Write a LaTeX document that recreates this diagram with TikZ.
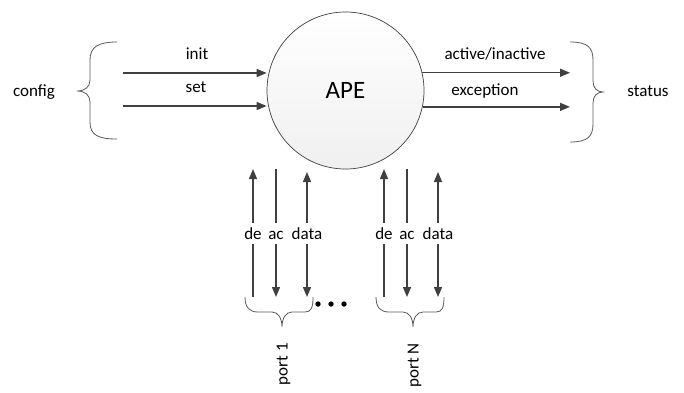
\documentclass[tikz,border=0pt]{standalone}
\usepackage{fontspec}
\setmainfont{Carlito}
\usetikzlibrary{arrows.meta,positioning,calc}
\definecolor{linegray}{HTML}{404040}
\definecolor{bracegray}{HTML}{5A5A5A}
\tikzstyle{arrow} = [line width=1.4pt, linegray, -{Triangle[length=10pt,width=8pt]}]
\tikzstyle{plain} = [line width=1.4pt, linegray]
\tikzstyle{brc} = [line width=0.8pt, bracegray]
\tikzstyle{lbl} = [inner xsep=1pt, inner ysep=5pt, text height=11pt, text depth=0pt, font=\fontsize{17}{20}\selectfont]

\begin{document}
\begin{tikzpicture}[x=1pt, y=-1pt]
	\useasboundingbox (0,0) rectangle (684,392);
	\node[circle, draw=linegray, line width=0.7pt, top color=white, bottom color=gray!12,
		minimum size=157pt, font=\fontsize{25}{30}\selectfont] (ape) at (345.5,90.5) {APE};
	% config side
	\coordinate (init0) at (123,73);
	\coordinate (set0) at (123,106);
	\draw[arrow] (init0) -- (init0 -| ape.west);
	\draw[arrow] (set0) -- (set0 -| ape.west);
	\node[lbl] (init) at (197,53.5) {init};
	\node[lbl] (set) at (196,86.5) {set};
	\draw[brc] (117,42) .. controls (98,42) and (90,47) .. (90,60) -- (90,80)
		.. controls (90,87) and (85,91) .. (77,91) .. controls (85,91) and (90,95) .. (90,102)
		-- (90,122) .. controls (90,135) and (98,139) .. (117,139);
	\node[lbl] (config) at (34,90.5) {config};
	% status side
	\coordinate (stat) at (570,91);
	\draw[arrow] (ape.13) -- (ape.13 -| stat);
	\draw[arrow] (ape.-12.5) -- (ape.-12.5 -| stat);
	\node[lbl] (active) at (495,54) {active/inactive};
	\node[lbl] (exception) at (485,89.5) {exception};
	\draw[brc] (570,42) .. controls (587,42) and (593,47) .. (593,60) -- (593,81)
		.. controls (593,88) and (597,92) .. (603,92) .. controls (597,92) and (593,96) .. (593,103)
		-- (593,124) .. controls (593,137) and (587,142) .. (570,142);
	\node[lbl] (status) at (648,91) {status};
	% ports
	\foreach \p/\dx in {1/0, N/131}{
		\begin{scope}[xshift=\dx]
			\coordinate (up\p) at (0,169);
			\coordinate (dn\p) at (0,297);
			\node[lbl] (de\p) at (253,233.5) {de};
			\node[lbl] (ac\p) at (276,233.5) {ac};
			\node[lbl] (data\p) at (307,233.5) {data};
			\draw[plain] (de\p |- dn\p) -- (de\p);
			\draw[arrow] (de\p) -- (de\p |- up\p);
			\draw[plain] (ac\p |- up\p) -- (ac\p);
			\draw[arrow] (ac\p) -- (ac\p |- dn\p);
			\draw[arrow] (data\p) -- ($(data\p |- up\p)+(0,3)$);
			\draw[arrow] (data\p) -- (data\p |- dn\p);
			\draw[brc] (245,297) .. controls (245,308) and (250,312) .. (258,312) -- (272,312)
				.. controls (278,312) and (282,318) .. (282,327) .. controls (282,318) and (286,312) .. (292,312)
				-- (305,312) .. controls (311,312) and (313,308) .. (313,297);
			\node[lbl, rotate=90, anchor=east] (port\p) at (282,342) {port \p};
		\end{scope}
	}
	\fill (318,304) circle (2.7) (331,304) circle (2.7) (344,304) circle (2.7);
\end{tikzpicture}
\end{document}
